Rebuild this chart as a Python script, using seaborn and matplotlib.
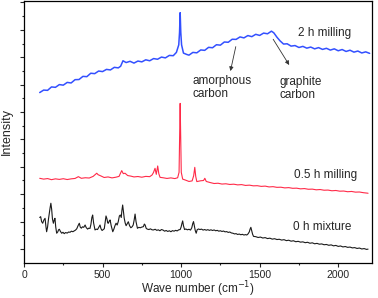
import numpy as np
import matplotlib
matplotlib.use('Agg')
import matplotlib.pyplot as plt
import seaborn as sns
from matplotlib.ticker import FixedLocator, MultipleLocator, NullFormatter

# data (intensity in arbitrary units, offset per trace)
wave_2h = [100, 125, 150, 175, 200, 225, 250, 275, 300, 325, 350, 375, 400, 425, 450, 475, 500, 525, 550, 575,
           600, 615, 630, 650, 675, 700, 725, 750, 775, 800, 825, 850, 875, 900, 925, 950, 970, 985, 990, 994,
           998, 1003, 1015, 1036, 1050, 1075, 1100, 1125, 1150, 1175, 1200, 1225, 1250, 1275, 1300, 1325, 1350,
           1375, 1400, 1425, 1450, 1475, 1500, 1525, 1550, 1575, 1590, 1610, 1630, 1652, 1675, 1700, 1725, 1750,
           1775, 1800, 1825, 1850, 1875, 1900, 1925, 1950, 1975, 2000, 2025, 2050, 2075, 2100, 2125, 2150, 2175, 2200]
int_2h = [12.42, 12.60, 12.58, 12.83, 12.80, 13.00, 12.96, 13.16, 13.12, 13.36, 13.37, 13.60, 13.58, 13.83, 13.80,
          13.99, 13.95, 14.11, 14.07, 14.26, 14.22, 14.34, 14.74, 14.61, 14.70, 14.57, 14.72, 14.66, 14.81, 14.74,
          14.90, 14.85, 15.01, 14.95, 15.13, 15.11, 15.35, 15.90, 16.80, 18.25, 16.80, 15.90, 15.30, 15.20, 15.15,
          15.35, 15.32, 15.53, 15.50, 15.72, 15.69, 15.91, 15.88, 16.11, 16.09, 16.31, 16.30, 16.48, 16.41, 16.58,
          16.50, 16.67, 16.59, 16.76, 16.71, 16.90, 16.78, 16.46, 16.19, 15.96, 15.98, 15.81, 15.85, 15.71, 15.79,
          15.66, 15.74, 15.61, 15.70, 15.57, 15.65, 15.52, 15.61, 15.47, 15.56, 15.42, 15.51, 15.37, 15.45, 15.31,
          15.39, 15.28]

wave_05h = [100, 125, 150, 175, 200, 225, 250, 275, 300, 325, 346, 365, 390, 415, 440, 455, 463, 472, 490, 510,
            535, 560, 585, 605, 615, 622, 632, 643, 660, 680, 700, 725, 750, 775, 800, 815, 824, 834, 842, 851,
            858, 866, 885, 910, 935, 960, 978, 987, 991, 994, 997, 1001, 1010, 1030, 1050, 1070, 1080, 1087, 1093,
            1100, 1125, 1143, 1151, 1160, 1185, 1210, 1235, 1260, 1285, 1310, 1335, 1360, 1385, 1410, 1435, 1460,
            1485, 1510, 1535, 1560, 1585, 1610, 1635, 1660, 1685, 1710, 1735, 1760, 1785, 1810, 1835, 1860, 1885,
            1910, 1935, 1960, 1985, 2010, 2035, 2060, 2085, 2110, 2135, 2160, 2190]
int_05h = [6.16, 6.10, 6.14, 6.06, 6.12, 6.08, 6.13, 6.07, 6.12, 6.15, 6.28, 6.16, 6.20, 6.18, 6.30, 6.45, 6.53,
           6.42, 6.33, 6.22, 6.26, 6.19, 6.24, 6.30, 6.55, 6.72, 6.50, 6.53, 6.36, 6.32, 6.26, 6.29, 6.24, 6.30,
           6.28, 6.40, 6.58, 6.89, 6.45, 7.06, 6.50, 6.23, 6.20, 6.15, 6.19, 6.14, 6.20, 6.60, 9.50, 11.63, 9.50,
           6.60, 6.10, 6.02, 5.93, 5.97, 6.35, 6.96, 6.30, 5.92, 5.98, 6.00, 6.16, 5.93, 5.85, 5.78, 5.80, 5.74,
           5.76, 5.71, 5.73, 5.68, 5.70, 5.64, 5.66, 5.61, 5.62, 5.57, 5.59, 5.53, 5.55, 5.50, 5.51, 5.46, 5.48,
           5.43, 5.44, 5.39, 5.41, 5.36, 5.37, 5.32, 5.34, 5.29, 5.30, 5.25, 5.27, 5.22, 5.23, 5.18, 5.20, 5.15,
           5.16, 5.11, 5.07]

wave_0h = [100, 106, 112, 119, 126, 134, 140, 144, 150, 156, 161, 166, 171, 176, 181, 187, 192, 197, 202, 208, 215,
           220, 225, 232, 240, 248, 256, 265, 275, 284, 293, 302, 311, 320, 328, 336, 344, 352, 358, 365, 372, 380,
           389, 396, 405, 412, 420, 426, 432, 437, 443, 452, 460, 468, 476, 484, 490, 497, 504, 511, 516, 522, 528,
           533, 537, 543, 548, 555, 565, 572, 579, 586, 593, 600, 607, 613, 619, 623, 628, 633, 638, 644, 650, 657,
           664, 672, 680, 688, 695, 701, 707, 713, 722, 731, 740, 750, 760, 766, 771, 778, 785, 795, 805, 815, 824,
           835, 845, 855, 865, 875, 885, 895, 905, 915, 925, 935, 945, 955, 965, 975, 985, 994, 1000, 1005, 1010,
           1015, 1022, 1030, 1040, 1050, 1060, 1068, 1074, 1079, 1084, 1090, 1096, 1102, 1110, 1120, 1130, 1140,
           1150, 1160, 1170, 1180, 1190, 1200, 1210, 1220, 1230, 1240, 1250, 1260, 1270, 1280, 1290, 1300, 1310,
           1320, 1330, 1340, 1350, 1360, 1370, 1380, 1390, 1400, 1410, 1418, 1426, 1434, 1439, 1444, 1449, 1455,
           1461, 1475, 1490, 1505, 1520, 1535, 1550, 1565, 1580, 1595, 1610, 1625, 1640, 1655, 1670, 1685, 1700,
           1715, 1730, 1745, 1760, 1775, 1790, 1805, 1820, 1835, 1850, 1865, 1880, 1895, 1910, 1925, 1940, 1955,
           1970, 1985, 2000, 2015, 2030, 2045, 2060, 2075, 2090, 2105, 2120, 2135, 2150, 2165, 2180, 2190]
int_0h = [3.30, 3.36, 3.00, 2.88, 3.10, 3.24, 2.60, 2.26, 2.60, 3.20, 3.60, 4.00, 4.34, 3.90, 3.20, 2.88, 3.10, 3.24,
          2.60, 2.15, 2.25, 2.40, 2.44, 2.28, 2.15, 2.22, 2.12, 2.20, 2.16, 2.24, 2.22, 2.30, 2.26, 2.32, 2.38, 2.48,
          2.70, 2.88, 2.60, 2.52, 2.62, 2.58, 2.75, 2.56, 2.45, 2.52, 2.50, 2.80, 3.30, 3.48, 2.90, 2.39, 2.45, 2.42,
          2.58, 2.75, 2.48, 2.35, 2.42, 2.48, 2.90, 3.41, 3.20, 2.90, 2.88, 3.05, 3.12, 2.70, 2.26, 2.45, 2.70, 2.88,
          2.75, 3.00, 3.41, 3.48, 3.30, 3.80, 4.21, 3.70, 3.24, 2.90, 2.70, 2.85, 2.99, 2.70, 2.55, 2.62, 2.75, 3.10,
          3.55, 3.00, 2.51, 2.58, 2.55, 2.60, 2.63, 2.82, 2.75, 2.50, 2.45, 2.42, 2.47, 2.40, 2.39, 2.44, 2.36, 2.40,
          2.33, 2.42, 2.38, 2.30, 2.35, 2.28, 2.33, 2.26, 2.34, 2.30, 2.36, 2.32, 2.40, 2.42, 2.60, 2.85, 3.05, 2.70,
          2.42, 2.46, 2.40, 2.44, 2.38, 2.55, 2.85, 3.00, 2.70, 2.35, 2.15, 2.40, 2.46, 2.42, 2.45, 2.38, 2.42, 2.37,
          2.41, 2.36, 2.40, 2.35, 2.39, 2.33, 2.36, 2.30, 2.33, 2.28, 2.31, 2.25, 2.27, 2.21, 2.24, 2.17, 2.15, 2.10,
          2.12, 2.06, 2.09, 2.04, 2.07, 2.02, 2.05, 2.02, 2.10, 2.25, 2.45, 2.58, 2.35, 2.08, 1.92, 1.90, 1.84, 1.87,
          1.80, 1.83, 1.76, 1.79, 1.72, 1.75, 1.69, 1.71, 1.65, 1.68, 1.61, 1.64, 1.57, 1.60, 1.53, 1.56, 1.50, 1.52,
          1.46, 1.49, 1.42, 1.45, 1.38, 1.41, 1.35, 1.37, 1.31, 1.33, 1.27, 1.30, 1.23, 1.26, 1.19, 1.22, 1.15, 1.18,
          1.12, 1.14, 1.08, 1.10, 1.04, 1.07, 1.00, 1.03, 0.97, 0.99]

sns.set_style('ticks')
plt.rcParams['font.family'] = ['Liberation Sans', 'DejaVu Sans']

fig = plt.figure(figsize=(3.78, 2.98), dpi=100)
ax = fig.add_axes([0.0635, 0.1185, 0.9206, 0.8771])

sns.lineplot(x=wave_0h, y=int_0h, ax=ax, color='#1a1a1a', lw=0.8, sort=False, estimator=None)
sns.lineplot(x=wave_05h, y=int_05h, ax=ax, color='#ff2a48', lw=0.8, sort=False, estimator=None)
sns.lineplot(x=wave_2h, y=int_2h, ax=ax, color='#3350ff', lw=1.1, sort=False, estimator=None)

ax.set_xlim(0, 2215)
ax.set_ylim(0, 19.08)
ax.xaxis.set_major_locator(MultipleLocator(500))
ax.xaxis.set_minor_locator(MultipleLocator(250))
ax.yaxis.set_major_locator(FixedLocator([1, 3, 5, 7, 9, 11, 13, 15, 17, 19]))
ax.yaxis.set_minor_locator(FixedLocator([2, 4, 6, 8, 10, 12, 14, 16, 18]))
ax.yaxis.set_major_formatter(NullFormatter())
ax.tick_params(which='major', direction='out', length=3, width=0.8, labelsize=7.5, pad=2.5)
ax.tick_params(which='minor', direction='out', length=1.5, width=0.8)
for s in ax.spines.values():
    s.set_linewidth(0.9)
    s.set_color('black')

ax.set_xlabel('Wave number (cm$^{-1}$)', fontsize=8.5, labelpad=-0.5)
ax.set_ylabel('Intensity', fontsize=9, labelpad=2.5)

ax.text(1745, 16.74, '2 h milling', fontsize=8.5, va='center', ha='left')
ax.text(1720, 6.40, '0.5 h milling', fontsize=8.5, va='center', ha='left')
ax.text(1715, 2.63, '0 h mixture', fontsize=8.5, va='center', ha='left')
ax.text(1070, 13.7, 'amorphous\ncarbon', fontsize=8.5, va='top', ha='left', linespacing=1.1)
ax.text(1629, 13.65, 'graphite\ncarbon', fontsize=8.5, va='top', ha='left', linespacing=1.1)

arrow = dict(arrowstyle='-|>', lw=0.6, color='#333333', mutation_scale=6, shrinkA=0, shrinkB=0)
ax.annotate('', xy=(1314, 13.99), xytext=(1348, 15.77), arrowprops=arrow)
ax.annotate('', xy=(1688, 14.43), xytext=(1586, 16.31), arrowprops=arrow)

plt.savefig('out.png', dpi=100)
plt.close()
